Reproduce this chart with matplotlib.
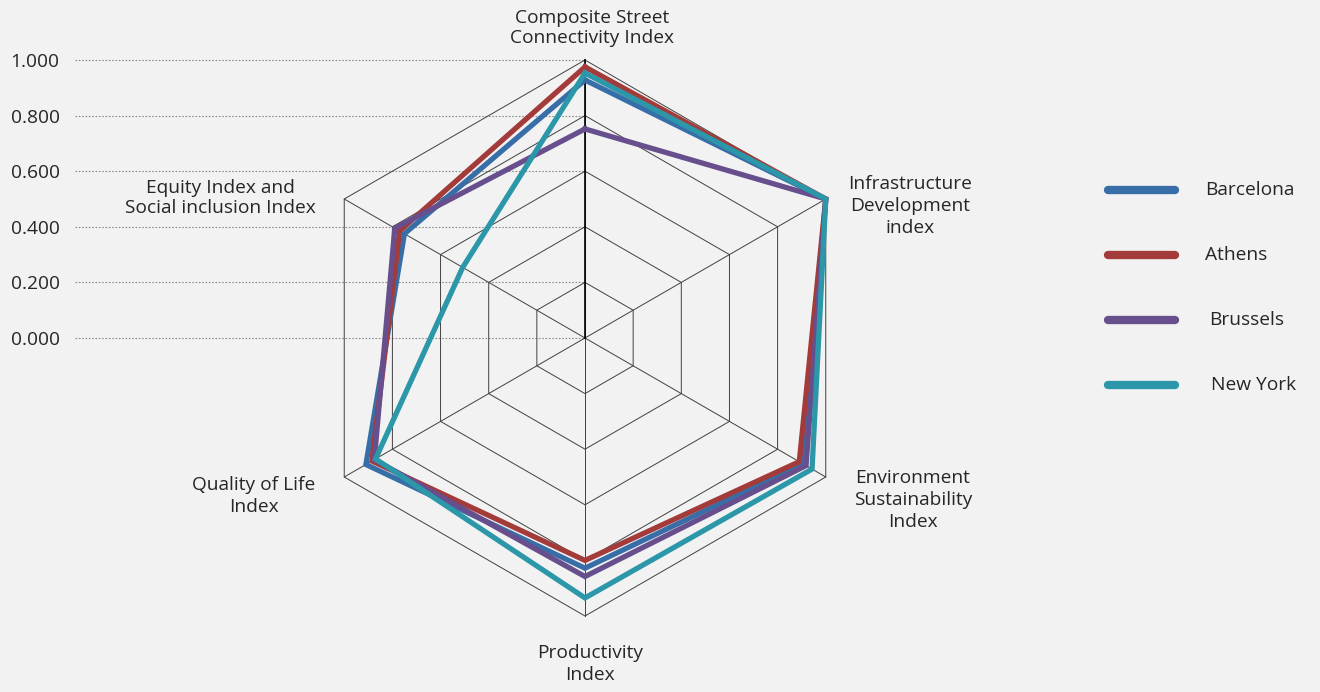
import numpy as np
import matplotlib.pyplot as plt

# axes of the radar, clockwise from the top
categories = ["Composite Street\nConnectivity Index",
              "Infrastructure\nDevelopment\nindex",
              "Environment\nSustainability\nIndex",
              "Productivity\nIndex",
              "Quality of Life\nIndex",
              "Equity Index and\nSocial inclusion Index"]

cities = ["Barcelona", "Athens", "Brussels", "New York"]
barcelona = [0.928, 1.000, 0.905, 0.828, 0.910, 0.750]
athens = [0.975, 1.000, 0.890, 0.800, 0.885, 0.770]
brussels = [0.752, 1.000, 0.918, 0.858, 0.875, 0.790]
new_york = [0.953, 1.000, 0.943, 0.935, 0.870, 0.508]
colors = ["#386ea8", "#a33b3a", "#674f8d", "#2c97a9"]

ticks = [0.0, 0.2, 0.4, 0.6, 0.8, 1.0]
tick_labels = ["0.000", "0.200", "0.400", "0.600", "0.800", "1.000"]

W, H = 1320, 692
CX, CY, R = 585, 338, 278  # centre and radius in pixels
FS = 13.8

plt.rcParams['font.family'] = ['Open Sans', 'DejaVu Sans']
fig = plt.figure(figsize=(W / 100, H / 100), dpi=100)
fig.patch.set_facecolor("#f2f2f2")

left = 75
ax = fig.add_axes([left / W, 0, (W - left) / W, 1])
ax.set_facecolor("#f2f2f2")
ax.set_xlim((left - CX) / R, (W - CX) / R)
ax.set_ylim((CY - H) / R, CY / R)
for s in ax.spines.values():
    s.set_visible(False)
ax.set_xticks([])
ax.set_yticks(ticks)
ax.set_yticklabels(tick_labels, fontsize=FS, color="#262626")
ax.tick_params(axis="y", length=0, pad=11)

# dotted value lines from the left edge to the centre
ax.hlines(ticks, ax.get_xlim()[0], 0, colors="#8c8c8c", linestyles=(0, (1.5, 1.5)), lw=0.8, zorder=1)

n = len(categories)
theta = np.deg2rad(90 - 60 * np.arange(n))
ct, st = np.cos(theta), np.sin(theta)

# hexagon rings and spokes
for t in ticks[1:]:
    ax.plot(np.append(t * ct, t * ct[0]), np.append(t * st, t * st[0]), color="#404040", lw=0.7, zorder=2)
for i in range(n):
    ax.plot([0, ct[i]], [0, st[i]], color="#404040", lw=0.7, zorder=2)
ax.plot([0, 0], [0, 1], color="black", lw=1.2, zorder=2)

series = [barcelona, athens, brussels, new_york]
for name, vals, c in zip(cities, series, colors):
    v = np.array(vals + vals[:1])
    ang_c = np.append(ct, ct[0])
    ang_s = np.append(st, st[0])
    ax.plot(v * ang_c, v * ang_s, color=c, lw=3.8, solid_joinstyle="miter", zorder=3, label=name)

# category labels
label_pos = [(592, 28), (910, 206), (913, 500), (590, 664), (254, 496), (220, 198)]
spacing = [1.15, 1.3, 1.3, 1.3, 1.3, 1.15]
for txt, (px, py), ls in zip(categories, label_pos, spacing):
    ax.text((px - CX) / R, (CY - py) / R, txt, ha="center", va="center", fontsize=FS,
            color="#262626", linespacing=ls)

# legend drawn by hand to match spacing
leg_y = [190, 255, 320, 385]
leg_tx = [1205, 1205, 1209, 1211]
for name, c, py, tx in zip(cities, colors, leg_y, leg_tx):
    y = (CY - py) / R
    ax.plot([(1108 - CX) / R, (1175 - CX) / R], [y, y], color=c, lw=6, solid_capstyle="round")
    ax.text((tx - CX) / R, y, name, ha="left", va="center", fontsize=FS, color="#262626")

ax.set_aspect("equal", adjustable="datalim")
ax.set_xlim((left - CX) / R, (W - CX) / R)
ax.set_ylim((CY - H) / R, CY / R)

fig.savefig("out.png", dpi=100, facecolor=fig.get_facecolor())
